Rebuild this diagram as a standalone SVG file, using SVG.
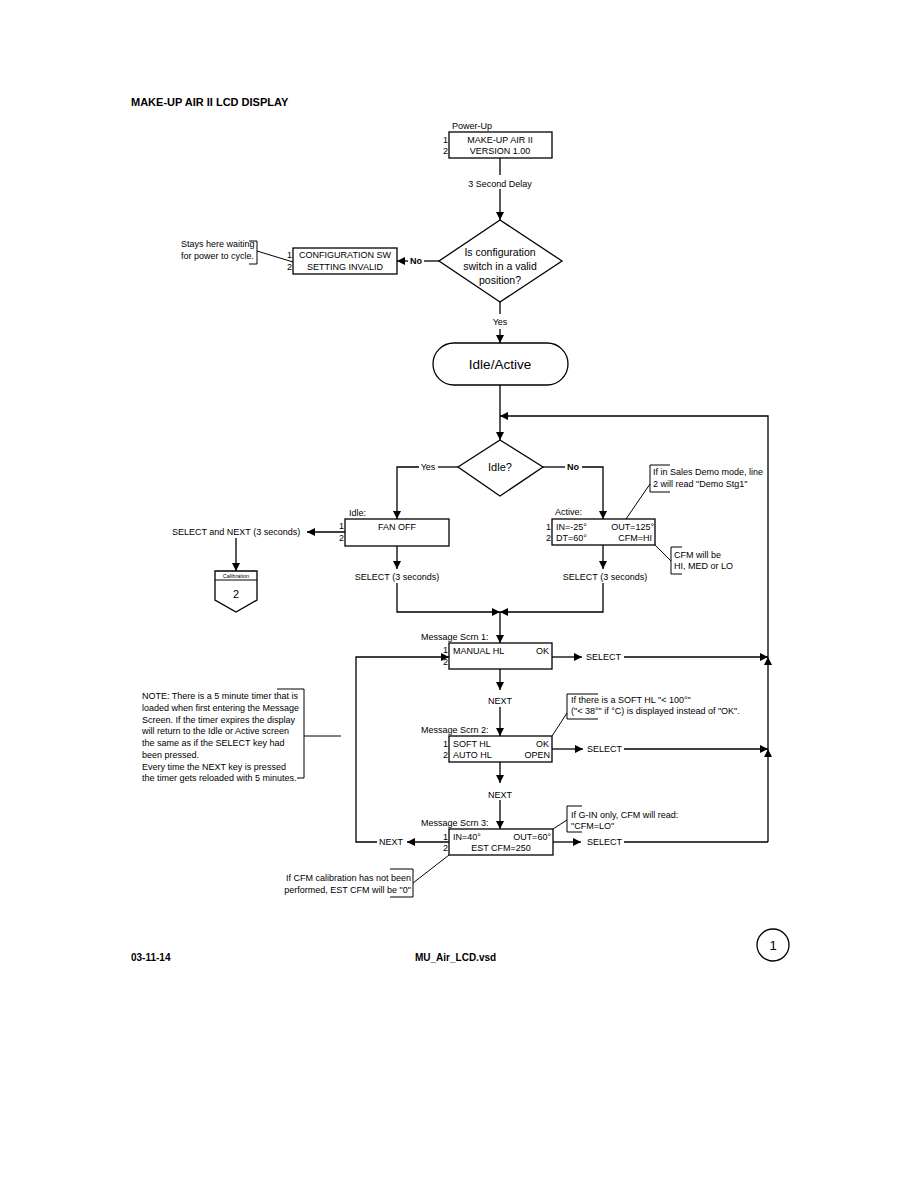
<svg xmlns="http://www.w3.org/2000/svg" width="918" height="1188" viewBox="0 0 918 1188">
<style>
.t{font-family:"Liberation Sans",Arial,sans-serif;font-size:9px;fill:#000}
.m{font-size:10.5px}
.b{font-weight:bold}
.c{text-anchor:middle}
.e{text-anchor:end}
.box{fill:#fff;stroke:#000;stroke-width:1.3}
.ln{fill:none;stroke:#000;stroke-width:1.3}
.thin{fill:none;stroke:#000;stroke-width:1}
</style>
<defs>
<marker id="ah" viewBox="0 0 10 10" refX="10" refY="5" markerWidth="8" markerHeight="8" markerUnits="userSpaceOnUse" orient="auto">
<path d="M0,0 L10,5 L0,10 Z" fill="#000"/>
</marker>
</defs>
<rect width="918" height="1188" fill="#fff"/>
<text class="t b" x="131" y="106" style="font-size:11px">MAKE-UP AIR II LCD DISPLAY</text>

<g id="connectors">
<line class="ln" x1="500" y1="158" x2="500" y2="175"/>
<line class="ln" x1="500" y1="189" x2="500" y2="220" marker-end="url(#ah)"/>
<line class="ln" x1="439" y1="261" x2="424" y2="261"/>
<line class="ln" x1="408" y1="261" x2="397" y2="261" marker-end="url(#ah)"/>
<line class="ln" x1="500" y1="302" x2="500" y2="314"/>
<line class="ln" x1="500" y1="329" x2="500" y2="343" marker-end="url(#ah)"/>
<line class="ln" x1="500" y1="385" x2="500" y2="440" marker-end="url(#ah)"/>
<line class="ln" x1="768" y1="842" x2="768" y2="749" marker-end="url(#ah)"/>
<line class="ln" x1="768" y1="749" x2="768" y2="657" marker-end="url(#ah)"/>
<polyline class="ln" points="768,657 768,416 500,416" marker-end="url(#ah)"/>
<line class="ln" x1="458" y1="467" x2="438" y2="467"/>
<polyline class="ln" points="419,467 397,467 397,519" marker-end="url(#ah)"/>
<line class="ln" x1="543" y1="467" x2="565" y2="467"/>
<polyline class="ln" points="582,467 603,467 603,519" marker-end="url(#ah)"/>
<line class="ln" x1="345" y1="532" x2="307" y2="532" marker-end="url(#ah)"/>
<line class="ln" x1="236" y1="538" x2="236" y2="571" marker-end="url(#ah)"/>
<line class="ln" x1="397" y1="546" x2="397" y2="569" marker-end="url(#ah)"/>
<polyline class="ln" points="397,583 397,612 500,612" marker-end="url(#ah)"/>
<line class="ln" x1="603" y1="545" x2="603" y2="569" marker-end="url(#ah)"/>
<polyline class="ln" points="603,583 603,612 500,612" marker-end="url(#ah)"/>
<line class="ln" x1="500" y1="612" x2="500" y2="643" marker-end="url(#ah)"/>
<line class="ln" x1="500" y1="669" x2="500" y2="690" marker-end="url(#ah)"/>
<line class="ln" x1="500" y1="707" x2="500" y2="736" marker-end="url(#ah)"/>
<line class="ln" x1="500" y1="762" x2="500" y2="783" marker-end="url(#ah)"/>
<line class="ln" x1="500" y1="800" x2="500" y2="829" marker-end="url(#ah)"/>
<line class="ln" x1="552" y1="657" x2="582" y2="657" marker-end="url(#ah)"/>
<line class="ln" x1="624" y1="657" x2="768" y2="657" marker-end="url(#ah)"/>
<line class="ln" x1="552" y1="749" x2="583" y2="749" marker-end="url(#ah)"/>
<line class="ln" x1="624" y1="749" x2="768" y2="749" marker-end="url(#ah)"/>
<line class="ln" x1="553" y1="842" x2="581" y2="842" marker-end="url(#ah)"/>
<line class="ln" x1="624" y1="842" x2="768" y2="842"/>
<line class="ln" x1="449" y1="842" x2="407" y2="842" marker-end="url(#ah)"/>
<polyline class="ln" points="377,842 356,842 356,657 449,657" marker-end="url(#ah)"/>
</g>

<g id="labels">
<text class="t c" x="500" y="187">3 Second Delay</text>
<text class="t b c" x="416" y="264">No</text>
<text class="t c" x="500" y="325">Yes</text>
<text class="t c" x="428" y="470">Yes</text>
<text class="t b c" x="573" y="470">No</text>
<text class="t" x="172" y="535">SELECT and NEXT (3 seconds)</text>
<text class="t c" x="397" y="580">SELECT (3 seconds)</text>
<text class="t c" x="605" y="580">SELECT (3 seconds)</text>
<text class="t" x="586" y="660">SELECT</text>
<text class="t" x="587" y="752">SELECT</text>
<text class="t" x="587" y="845">SELECT</text>
<text class="t c" x="500" y="704">NEXT</text>
<text class="t c" x="500" y="798">NEXT</text>
<text class="t" x="379" y="845">NEXT</text>
</g>

<g id="powerup">
<text class="t" x="452" y="129">Power-Up</text>
<rect class="box" x="449" y="132" width="103" height="26"/>
<text class="t" x="443" y="143">1</text>
<text class="t" x="443" y="154">2</text>
<text class="t c" x="500" y="143">MAKE-UP AIR II</text>
<text class="t c" x="500" y="154">VERSION 1.00</text>
</g>

<g id="config-decision">
<polygon class="box" points="500,220 562,261 500,302 439,261"/>
<text class="t m c" x="500" y="256">Is configuration</text>
<text class="t m c" x="500" y="270">switch in a valid</text>
<text class="t m c" x="500" y="284">position?</text>
</g>

<g id="config-invalid">
<rect class="box" x="293" y="248" width="104" height="26"/>
<text class="t" x="287" y="258">1</text>
<text class="t" x="287" y="270">2</text>
<text class="t c" x="345" y="258">CONFIGURATION SW</text>
<text class="t c" x="345" y="270">SETTING INVALID</text>
</g>

<g id="note-cycle">
<text class="t" x="181" y="247">Stays here waiting</text>
<text class="t" x="181" y="259">for power to cycle.</text>
<polyline class="thin" points="249,241 257,241 257,264 249,264"/>
<line class="thin" x1="257" y1="251" x2="293" y2="262"/>
</g>

<g id="idle-active">
<rect class="box" x="433" y="343" width="135" height="42" rx="21"/>
<text class="t c" x="500" y="369" style="font-size:13.5px">Idle/Active</text>
</g>

<g id="idle-decision">
<polygon class="box" points="500,440 543,467 500,496 458,467"/>
<text class="t c" x="500" y="471" style="font-size:11px">Idle?</text>
</g>

<g id="note-demo">
<text class="t" x="653" y="475">If in Sales Demo mode, line</text>
<text class="t" x="653" y="487">2 will read "Demo Stg1"</text>
<polyline class="thin" points="670,465 650,465 650,492 670,492"/>
<line class="thin" x1="650" y1="484" x2="626" y2="519"/>
</g>

<g id="idle-screen">
<text class="t" x="349" y="516">Idle:</text>
<rect class="box" x="345" y="519" width="104" height="27"/>
<text class="t" x="339" y="529">1</text>
<text class="t" x="339" y="541">2</text>
<text class="t c" x="397" y="530">FAN OFF</text>
</g>

<g id="calibration">
<path class="box" d="M215,571 H257 V600 L236,612 L215,600 Z"/>
<line class="thin" x1="215" y1="580" x2="257" y2="580"/>
<text class="t c" x="236" y="578" style="font-size:5.5px">Calibration</text>
<text class="t c" x="236" y="598" style="font-size:11px">2</text>
</g>

<g id="active-screen">
<text class="t" x="555" y="515">Active:</text>
<rect class="box" x="552" y="519" width="103" height="26"/>
<text class="t" x="546" y="530">1</text>
<text class="t" x="546" y="541">2</text>
<text class="t" x="556" y="530">IN=-25°</text>
<text class="t e" x="654" y="530">OUT=125°</text>
<text class="t" x="556" y="541">DT=60°</text>
<text class="t e" x="652" y="541">CFM=HI</text>
</g>

<g id="note-cfm">
<text class="t" x="674" y="558">CFM will be</text>
<text class="t" x="674" y="569">HI, MED or LO</text>
<polyline class="thin" points="682,547 671,547 671,574 682,574"/>
<line class="thin" x1="671" y1="561" x2="655" y2="545"/>
</g>

<g id="msg-scrn-1">
<text class="t" x="421" y="640">Message Scrn 1:</text>
<rect class="box" x="449" y="643" width="103" height="26"/>
<text class="t" x="443" y="653">1</text>
<text class="t" x="443" y="665">2</text>
<text class="t" x="453" y="654">MANUAL HL</text>
<text class="t e" x="549" y="654">OK</text>
</g>

<g id="note-timer">
<text class="t" x="142" y="699">NOTE: There is a 5 minute timer that is</text>
<text class="t" x="142" y="711">loaded when first entering the Message</text>
<text class="t" x="142" y="723">Screen.  If the timer expires the display</text>
<text class="t" x="142" y="734">will return to the Idle or Active screen</text>
<text class="t" x="142" y="746">the same as if the SELECT key had</text>
<text class="t" x="142" y="758">been pressed.</text>
<text class="t" x="142" y="770">Every time the NEXT key is pressed</text>
<text class="t" x="142" y="781">the timer gets reloaded with 5 minutes.</text>
<polyline class="thin" points="277,689 304,689 304,778 297,778"/>
<line class="thin" x1="304" y1="736" x2="341" y2="736"/>
</g>

<g id="note-softhl">
<text class="t" x="571" y="703">If there is a SOFT HL  "&lt; 100°"</text>
<text class="t" x="571" y="714">("&lt; 38°" if °C) is displayed instead of "OK".</text>
<polyline class="thin" points="598,694 567,694 567,719 598,719"/>
<line class="thin" x1="567" y1="713" x2="552" y2="736"/>
</g>

<g id="msg-scrn-2">
<text class="t" x="421" y="733">Message Scrn 2:</text>
<rect class="box" x="449" y="736" width="103" height="26"/>
<text class="t" x="443" y="747">1</text>
<text class="t" x="443" y="758">2</text>
<text class="t" x="453" y="747">SOFT HL</text>
<text class="t e" x="549" y="747">OK</text>
<text class="t" x="453" y="758">AUTO HL</text>
<text class="t e" x="550" y="758">OPEN</text>
</g>

<g id="note-gin">
<text class="t" x="571" y="818">If G-IN only, CFM will read:</text>
<text class="t" x="571" y="829">"CFM=LO"</text>
<polyline class="thin" points="582,806 567,806 567,832 582,832"/>
<line class="thin" x1="567" y1="820" x2="553" y2="829"/>
</g>

<g id="msg-scrn-3">
<text class="t" x="421" y="826">Message Scrn 3:</text>
<rect class="box" x="449" y="829" width="104" height="26"/>
<text class="t" x="443" y="840">1</text>
<text class="t" x="443" y="851">2</text>
<text class="t" x="453" y="840">IN=40°</text>
<text class="t e" x="551" y="840">OUT=60°</text>
<text class="t c" x="501" y="851">EST CFM=250</text>
</g>

<g id="note-estcfm">
<text class="t e" x="411" y="881">If CFM calibration has not been</text>
<text class="t e" x="411" y="893">performed, EST CFM will be "0"</text>
<polyline class="thin" points="390,869 413,869 413,897 390,897"/>
<line class="thin" x1="413" y1="883" x2="449" y2="855"/>
</g>

<g id="footer">
<text class="t b" x="131" y="961" style="font-size:10px">03-11-14</text>
<text class="t b" x="415" y="961" style="font-size:10px">MU_Air_LCD.vsd</text>
<circle class="ln" cx="773" cy="945" r="16" fill="none"/>
<text class="t c" x="773" y="950" style="font-size:13px">1</text>
</g>
</svg>
